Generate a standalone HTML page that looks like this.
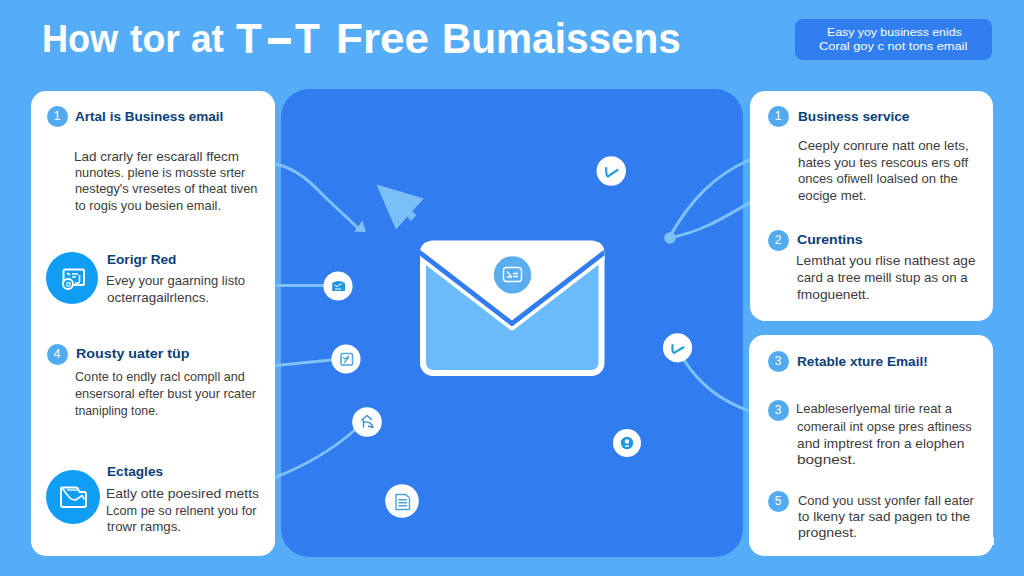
<!DOCTYPE html>
<html><head><meta charset="utf-8">
<style>
html,body{margin:0;padding:0;}
body{width:1024px;height:576px;overflow:hidden;position:relative;background:#55adf8;font-family:"Liberation Sans",sans-serif;}
.abs{position:absolute;}
.t{position:absolute;line-height:0;white-space:nowrap;transform-origin:0 0;}
.badge{position:absolute;left:795px;top:19px;width:197px;height:41px;background:#317ef0;border-radius:8px;}
.card{position:absolute;background:#fff;border-radius:15px;}
.panel{position:absolute;left:281px;top:88.5px;width:461.5px;height:468px;background:#317df0;border-radius:28px;}
.num{position:absolute;width:21px;height:21px;border-radius:50%;background:#52aaf0;color:#fff;font-size:12px;text-align:center;line-height:21px;}
.big{position:absolute;border-radius:50%;background:#109ef4;}
</style></head><body>
<div class="badge"></div>

<!-- left card -->
<div class="card" style="left:31.4px;top:90.8px;width:244.1px;height:465.2px;"></div>
<div class="num" style="left:46.5px;top:105.5px;">1</div>
<div class="big" style="left:46px;top:252.4px;width:52px;height:52px;"></div>
<div class="num" style="left:46.5px;top:344px;">4</div>
<div class="big" style="left:46px;top:469.5px;width:54px;height:54px;"></div>

<!-- center panel -->
<div class="panel"></div>
<svg class="abs" style="left:0;top:0" width="1024" height="576" viewBox="0 0 1024 576">
 <defs><clipPath id="envclip"><rect x="420" y="240.5" width="184.5" height="135.5" rx="12"/></clipPath></defs>
 <g fill="none" stroke="#7dc1f7" stroke-width="3" stroke-linecap="round">
  <path d="M276,164 C300,170 313,185 326,198 L358,228"/>
  <path d="M276,285.5 L323,285.5"/>
  <path d="M276,365.5 L331,360"/>
  <path d="M276,477 Q322,459 356,429"/>
  <path d="M669,238 C690,200 715,175 749,160"/>
  <path d="M669,238 C700,232 720,220 749,203"/>
  <path d="M684,360 C700,385 720,400 749,411"/>
 </g>
 <path d="M354,231.8 L366,232 L362.5,220.5 Z" fill="#7dc1f7"/>
 <path d="M376.5,184.6 L423.8,198.6 L395.9,229.5 Z" fill="#7bbff7"/>
 <path d="M408,207 L416.3,215.2 L411.1,221 L403.5,212.5 Z" fill="#7bbff7"/>
 <circle cx="670" cy="238" r="5.8" fill="#7dc1f7"/>
 <!-- envelope -->
 <rect x="423" y="243.5" width="178.5" height="129.5" rx="10" fill="#6bbbfb" stroke="#fff" stroke-width="6"/>
 <g clip-path="url(#envclip)">
 <path d="M419,242 L606,242 L606,253 L512,323.5 L419,253 Z" fill="#fff"/>
 <path d="M416,252.8 L512,326.7 L608,252.8" fill="none" stroke="#fff" stroke-width="7.2" stroke-linejoin="round"/>
 <path d="M416,249.6 L512,323.5 L608,249.6" fill="none" stroke="#317df0" stroke-width="4.8" stroke-linejoin="round"/>
 </g>
 <circle cx="512.5" cy="274.9" r="18.7" fill="#5aaef0"/>
 <rect x="503.5" y="267.5" width="18" height="14" rx="3" fill="none" stroke="#fff" stroke-width="1.4"/>
 <path d="M507,271.5 L511,276 M507,277 L512,277 M513,273.5 L518,273.5 M513,276.5 L518,276.5" stroke="#fff" stroke-width="1.3" fill="none"/>
 <g fill="#fff">
  <circle cx="338" cy="286" r="14.6"/>
  <circle cx="346" cy="359" r="14.6"/>
  <circle cx="367" cy="422" r="14.8"/>
  <circle cx="402" cy="501" r="16.8"/>
  <circle cx="611.2" cy="171" r="14.7"/>
  <circle cx="677.5" cy="347.8" r="14.6"/>
  <circle cx="627" cy="443" r="14"/>
 </g>
 <!-- small icons -->
 <path d="M332.2,283 Q338.5,279 345,283 L345,291 L332.2,291 Z" fill="#2196dc"/>
 <path d="M334.5,285 L337,286.5 L342,283.5 M335,289 L341,289" stroke="#fff" stroke-width="1" fill="none"/>
 <rect x="341" y="353.5" width="11.5" height="11.5" rx="1.2" fill="none" stroke="#4aa4e0" stroke-width="1.5"/>
 <path d="M343,357 L345,359 L349,356 M344,363 L349,357" stroke="#4aa4e0" stroke-width="1.2" fill="none"/>
 <path d="M361.5,420.5 L367,415.5 L372,420 M363.5,420 L363.5,427.5 M363.5,423 Q368,420 372,425 L373,427.5 L368,426" stroke="#3a90d0" stroke-width="1.4" fill="none" stroke-linejoin="round"/>
 <path d="M396,494.5 L405.5,494.5 L409.5,498 L409.5,509.5 L396,509.5 Z" fill="none" stroke="#49a6dc" stroke-width="1.4" stroke-linejoin="round"/>
 <path d="M398.5,499.8 L407,499.8 M398.5,502.7 L407,502.7 M398.5,505.7 L407,505.7" stroke="#49a6dc" stroke-width="1.5"/>
 <path d="M606.2,168 Q606,176 607.8,176.5 L617.5,170" stroke="#25a0d8" stroke-width="2.2" fill="none" stroke-linecap="round"/>
 <path d="M672.5,345 Q672,353 674,353 L683.5,347.3" stroke="#25a0d8" stroke-width="2.2" fill="none" stroke-linecap="round"/>
 <circle cx="627" cy="443" r="6.2" fill="#2196dc"/>
 <circle cx="627" cy="441.5" r="2.2" fill="#fff"/>
 <path d="M625,446 L629,446" stroke="#fff" stroke-width="1.4"/>
 <!-- big circle icons -->
 <rect x="63.5" y="269.5" width="20.5" height="15.5" rx="1.5" fill="none" stroke="#fff" stroke-width="2"/>
 <path d="M67,273 L70,275 M72,274 L78,274 M72,277 L76,277 M79.5,275 L79.5,281.5 Q79.5,283 78,283 L75,283" stroke="#fff" stroke-width="1.6" fill="none"/>
 <circle cx="68" cy="284" r="5" fill="#109ef4" stroke="#fff" stroke-width="2"/>
 <circle cx="68.5" cy="284.5" r="1.8" fill="none" stroke="#fff" stroke-width="1.2"/>
 <path d="M61,488.5 L61,505 Q61,507 63,507 L84,507 Q86,507 86,505 L86,494 Q86,492 84,492 L79.5,492 L78,488.5 Q77.5,487.5 76,487.5 L63,487.5 Q61,487.5 61,488.5 Z" fill="none" stroke="#fff" stroke-width="1.9" stroke-linejoin="round"/>
 <path d="M62,487.5 Q66,494 70,498 Q74,501.5 78,498.5 L82,495.5 Q83.5,497 84,499" fill="none" stroke="#fff" stroke-width="1.6" stroke-linecap="round"/>
 <path d="M67,490 L79,490" stroke="#fff" stroke-width="1.3"/>
</svg>

<!-- right cards -->
<div class="card" style="left:749.5px;top:91px;width:243.5px;height:230px;"></div>
<div class="num" style="left:767.6px;top:106px;">1</div>
<div class="num" style="left:767.6px;top:229.5px;">2</div>
<div class="card" style="left:749px;top:335px;width:244px;height:221px;"></div>
<div class="num" style="left:767.6px;top:351px;">3</div>
<div class="num" style="left:767.6px;top:399.5px;">3</div>
<div class="num" style="left:767.6px;top:491px;">5</div>

<div class="abs" style="left:990px;top:537px;width:4px;height:8px;background:#fff"></div>
<div class="abs" style="left:267.6px;top:38px;width:23.4px;height:5.8px;background:#fff"></div>
<div class="t" style="left:42.18px;top:37.61px;font-size:39.5px;font-weight:bold;color:#ffffff;transform:scaleX(0.9124)">How</div>
<div class="t" style="left:130.20px;top:37.51px;font-size:39.5px;font-weight:bold;color:#ffffff;transform:scaleX(0.9468)">tor</div>
<div class="t" style="left:190.76px;top:37.51px;font-size:39.5px;font-weight:bold;color:#ffffff;transform:scaleX(0.9362)">at</div>
<div class="t" style="left:236.30px;top:37.60px;font-size:43.3px;font-weight:bold;color:#ffffff;transform:scaleX(0.9769)">T</div>
<div class="t" style="left:295.40px;top:37.60px;font-size:43.3px;font-weight:bold;color:#ffffff;transform:scaleX(0.9385)">T</div>
<div class="t" style="left:335.96px;top:37.80px;font-size:43.3px;font-weight:bold;color:#ffffff;transform:scaleX(1.0184)">Free</div>
<div class="t" style="left:442.13px;top:37.80px;font-size:43.3px;font-weight:bold;color:#ffffff;transform:scaleX(0.9365)">Bumaissens</div>
<div class="t" style="left:826.90px;top:32.05px;font-size:11.4px;font-weight:normal;color:#ffffff;transform:scaleX(1.0797)">Easy yoy business enids</div>
<div class="t" style="left:818.70px;top:45.55px;font-size:11.4px;font-weight:normal;color:#ffffff;transform:scaleX(1.1261)">Coral goy c not tons email</div>
<div class="t" style="left:74.80px;top:116.76px;font-size:13.4px;font-weight:bold;color:#0c4078;transform:scaleX(1.0117)">Artal is Business email</div>
<div class="t" style="left:74.21px;top:156.80px;font-size:12.4px;font-weight:normal;color:#3c3c3c;transform:scaleX(1.0854)">Lad crarly fer escarall ffecm</div>
<div class="t" style="left:75.30px;top:172.70px;font-size:12.4px;font-weight:normal;color:#3c3c3c;transform:scaleX(1.0305)">nunotes. plene is mosste srter</div>
<div class="t" style="left:75.30px;top:188.50px;font-size:12.4px;font-weight:normal;color:#3c3c3c;transform:scaleX(1.0332)">nestegy's vresetes of theat tiven</div>
<div class="t" style="left:75.30px;top:206.20px;font-size:12.4px;font-weight:normal;color:#3c3c3c;transform:scaleX(1.0388)">to rogis you besien email.</div>
<div class="t" style="left:107.40px;top:260.16px;font-size:13.4px;font-weight:bold;color:#0c4078;transform:scaleX(1.0136)">Eorigr Red</div>
<div class="t" style="left:106.35px;top:280.60px;font-size:12.4px;font-weight:normal;color:#3c3c3c;transform:scaleX(1.0514)">Evey your gaarning listo</div>
<div class="t" style="left:107.40px;top:297.50px;font-size:12.4px;font-weight:normal;color:#3c3c3c;transform:scaleX(1.0820)">octerragailrlencs.</div>
<div class="t" style="left:75.50px;top:354.46px;font-size:13.4px;font-weight:bold;color:#0c4078;transform:scaleX(1.0658)">Rousty uater tüp</div>
<div class="t" style="left:75.00px;top:376.70px;font-size:12.4px;font-weight:normal;color:#3c3c3c;transform:scaleX(1.0187)">Conte to endly racl compll and</div>
<div class="t" style="left:75.00px;top:394.00px;font-size:12.4px;font-weight:normal;color:#3c3c3c;transform:scaleX(1.0314)">ensersoral efter bust your rcater</div>
<div class="t" style="left:75.00px;top:411.10px;font-size:12.4px;font-weight:normal;color:#3c3c3c;transform:scaleX(0.9928)">tnanipling tone.</div>
<div class="t" style="left:107.40px;top:471.66px;font-size:13.4px;font-weight:bold;color:#0c4078;transform:scaleX(1.0177)">Ectagles</div>
<div class="t" style="left:106.28px;top:494.00px;font-size:12.4px;font-weight:normal;color:#3c3c3c;transform:scaleX(1.1216)">Eatly otte poesired metts</div>
<div class="t" style="left:106.37px;top:510.80px;font-size:12.4px;font-weight:normal;color:#3c3c3c;transform:scaleX(1.0263)">Lcom pe so relnent you for</div>
<div class="t" style="left:107.40px;top:527.00px;font-size:12.4px;font-weight:normal;color:#3c3c3c;transform:scaleX(1.0760)">trowr ramgs.</div>
<div class="t" style="left:797.70px;top:116.76px;font-size:13.4px;font-weight:bold;color:#0c4078;transform:scaleX(1.0185)">Business service</div>
<div class="t" style="left:797.70px;top:145.60px;font-size:12.4px;font-weight:normal;color:#3c3c3c;transform:scaleX(1.0768)">Ceeply conrure natt one lets,</div>
<div class="t" style="left:797.70px;top:162.70px;font-size:12.4px;font-weight:normal;color:#3c3c3c;transform:scaleX(1.0754)">hates you tes rescous ers off</div>
<div class="t" style="left:797.70px;top:179.30px;font-size:12.4px;font-weight:normal;color:#3c3c3c;transform:scaleX(1.0551)">onces ofiwell loalsed on the</div>
<div class="t" style="left:797.70px;top:196.30px;font-size:12.4px;font-weight:normal;color:#3c3c3c;transform:scaleX(1.0674)">eocige met.</div>
<div class="t" style="left:797.00px;top:239.96px;font-size:13.4px;font-weight:bold;color:#0c4078;transform:scaleX(1.0508)">Curentins</div>
<div class="t" style="left:795.90px;top:260.70px;font-size:12.4px;font-weight:normal;color:#3c3c3c;transform:scaleX(1.1048)">Lemthat you rlise nathest age</div>
<div class="t" style="left:797.00px;top:278.00px;font-size:12.4px;font-weight:normal;color:#3c3c3c;transform:scaleX(1.0728)">card a tree meill stup as on a</div>
<div class="t" style="left:797.00px;top:294.80px;font-size:12.4px;font-weight:normal;color:#3c3c3c;transform:scaleX(1.1078)">fmoguenett.</div>
<div class="t" style="left:797.00px;top:361.56px;font-size:13.4px;font-weight:bold;color:#0c4078;transform:scaleX(1.0157)">Retable xture Email!</div>
<div class="t" style="left:795.95px;top:409.20px;font-size:12.4px;font-weight:normal;color:#3c3c3c;transform:scaleX(1.0482)">Leableserlyemal tirie reat a</div>
<div class="t" style="left:797.00px;top:426.50px;font-size:12.4px;font-weight:normal;color:#3c3c3c;transform:scaleX(1.0445)">comerail int opse pres aftiness</div>
<div class="t" style="left:797.00px;top:443.60px;font-size:12.4px;font-weight:normal;color:#3c3c3c;transform:scaleX(1.1089)">and imptrest fron a elophen</div>
<div class="t" style="left:797.00px;top:459.70px;font-size:12.4px;font-weight:normal;color:#3c3c3c;transform:scaleX(1.2422)">bognest.</div>
<div class="t" style="left:797.50px;top:501.00px;font-size:12.4px;font-weight:normal;color:#3c3c3c;transform:scaleX(1.0469)">Cond you usst yonfer fall eater</div>
<div class="t" style="left:797.50px;top:517.40px;font-size:12.4px;font-weight:normal;color:#3c3c3c;transform:scaleX(1.1005)">to lkeny tar sad pagen to the</div>
<div class="t" style="left:797.50px;top:533.10px;font-size:12.4px;font-weight:normal;color:#3c3c3c;transform:scaleX(1.1421)">prognest.</div>
</body></html>
